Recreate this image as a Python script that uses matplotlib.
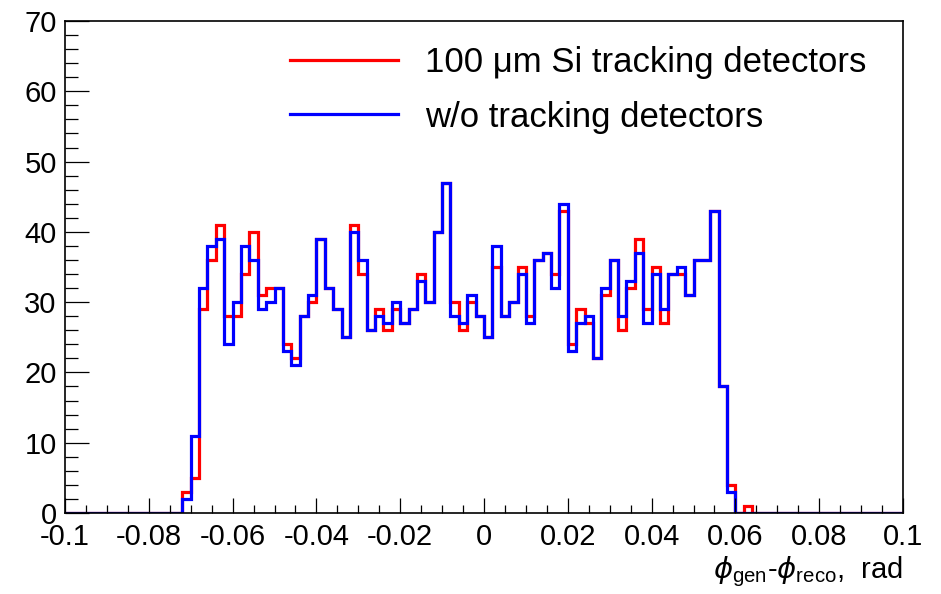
import numpy as np
import matplotlib
matplotlib.use("Agg")
import matplotlib.pyplot as plt
from matplotlib.ticker import MultipleLocator

plt.rcParams['font.family'] = ['Liberation Sans', 'DejaVu Sans']
plt.rcParams['mathtext.fontset'] = 'dejavusans'

# histogram binning
x_min, x_max, n_bins = -0.1, 0.1, 100
first_bin = 14  # index of first filled bin

# counts per bin starting at first_bin
counts_si = [3, 5, 29, 36, 41, 28, 28, 34, 40, 31, 32, 32, 24, 22, 28, 30, 39, 32,
             29, 25, 41, 34, 26, 29, 26, 29, 27, 29, 34, 30, 40, 47, 30, 26, 30, 28,
             25, 35, 28, 30, 35, 28, 36, 37, 34, 43, 24, 29, 27, 22, 31, 36, 26, 32,
             39, 29, 35, 27, 34, 34, 31, 36, 36, 43, 18, 4, 0, 1]
counts_wo = [2, 11, 32, 38, 39, 24, 30, 38, 36, 29, 30, 32, 23, 21, 28, 31, 39, 32,
             29, 25, 40, 36, 26, 28, 27, 30, 27, 29, 33, 30, 40, 47, 28, 27, 31, 28,
             25, 38, 28, 30, 34, 27, 36, 37, 32, 44, 23, 27, 28, 22, 32, 36, 28, 33,
             37, 27, 34, 29, 34, 35, 31, 36, 36, 43, 18, 3, 0, 0]

xtick_vals = [-0.1, -0.08, -0.06, -0.04, -0.02, 0, 0.02, 0.04, 0.06, 0.08, 0.1]
xtick_labels = ["-0.1", "-0.08", "-0.06", "-0.04", "-0.02", "0",
                "0.02", "0.04", "0.06", "0.08", "0.1"]

labels = ["100 \u03bcm Si tracking detectors", "w/o tracking detectors"]
colors = ["#ff0000", "#0000ff"]

def full(c):
    arr = np.zeros(n_bins)
    arr[first_bin:first_bin + len(c)] = c
    return arr

edges = np.linspace(x_min, x_max, n_bins + 1)

fig = plt.figure(figsize=(9.41, 5.94), dpi=100)
ax = fig.add_axes([65/941, (594-513)/594, (903-65)/941, (513-21)/594])

for c, lab, col in zip([counts_si, counts_wo], labels, colors):
    ax.stairs(full(c), edges, color=col, lw=2.3, label=lab, baseline=None)

ax.set_xlim(x_min, x_max)
ax.set_ylim(0, 70)
ax.set_xticks(xtick_vals)
ax.set_xticklabels(xtick_labels)
ax.xaxis.set_minor_locator(MultipleLocator(0.005))
ax.yaxis.set_major_locator(MultipleLocator(10))
ax.yaxis.set_minor_locator(MultipleLocator(2))

ax.tick_params(axis='x', which='major', direction='in', length=11, width=0.9,
               labelsize=21, pad=7)
ax.tick_params(axis='x', which='minor', direction='in', length=5.5, width=0.9)
ax.tick_params(axis='y', which='major', direction='in', length=17, width=0.9,
               labelsize=21, pad=6)
ax.tick_params(axis='y', which='minor', direction='in', length=9, width=0.9)
for s in ax.spines.values():
    s.set_linewidth(1.2)

ax.text(1.0, (513 - 578) / 492,
        r"$\phi_{\mathregular{gen}}$-$\phi_{\mathregular{reco}}$,  rad",
        transform=ax.transAxes, ha='right', va='baseline', fontsize=21)

fs = 25
fpx = fs * 100 / 72
ax.legend(loc='upper left', bbox_to_anchor=(290/941, 1 - 46/594),
          bbox_transform=fig.transFigure, frameon=False, fontsize=fs,
          borderaxespad=0, borderpad=0,
          handlelength=108/fpx, handletextpad=27/fpx,
          labelspacing=0.62)

fig.savefig("out.png", dpi=100)
